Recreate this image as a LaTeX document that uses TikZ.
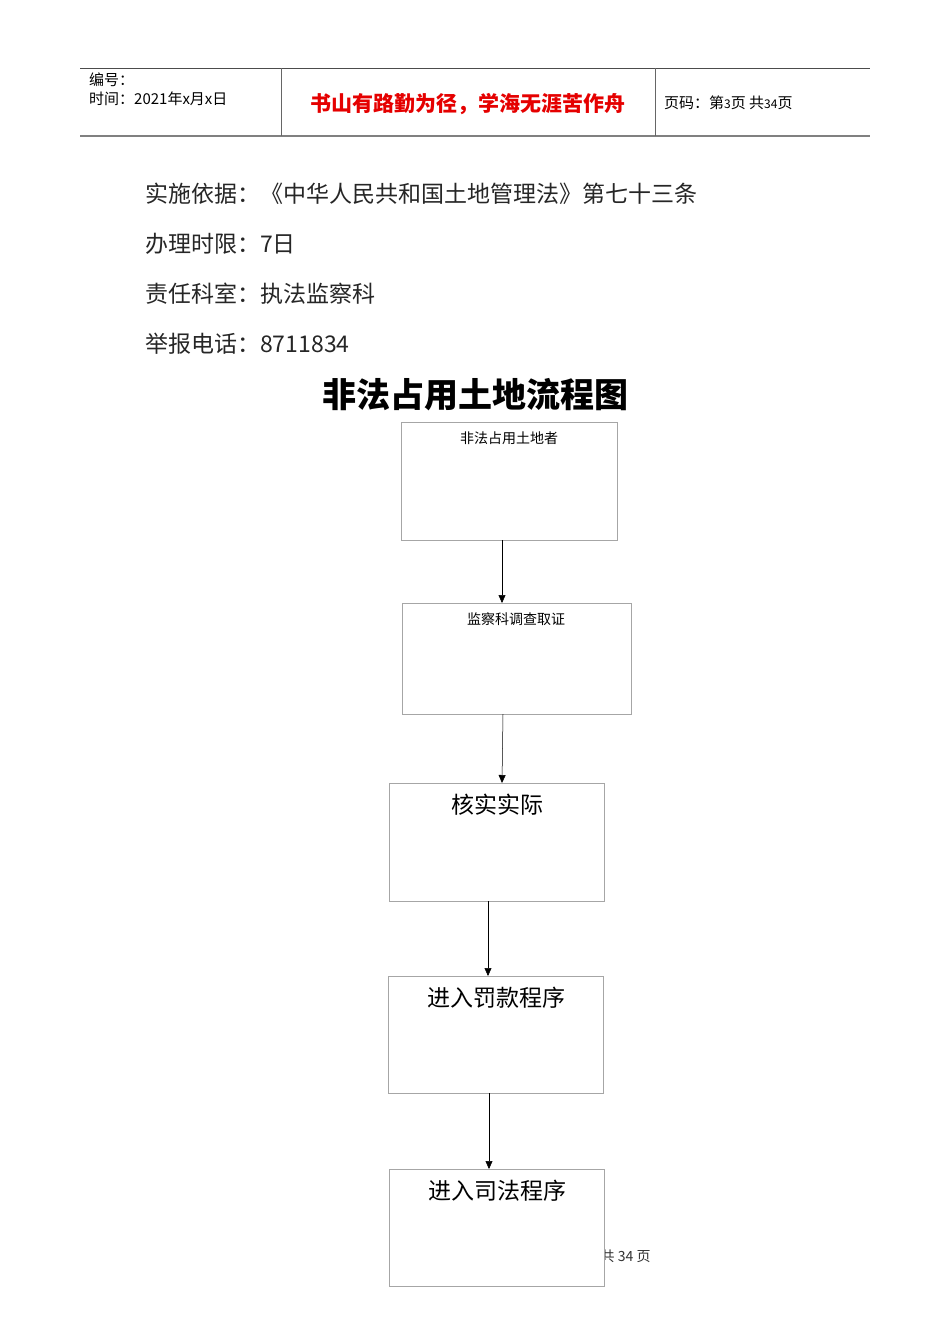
\documentclass[tikz,border=0pt]{standalone}
\usepackage{fontspec}
\setmainfont{Liberation Sans}
\newfontfamily\cjk{Noto Sans CJK SC}
\usetikzlibrary{arrows.meta}
\tikzset{box/.style={draw=black!35,fill=white,line width=0.8pt},
 arr/.style={-{Triangle[length=8pt,width=7pt]},line width=0.5pt},
 body/.style={anchor=west,font=\cjk\fontsize{23}{26}\selectfont,text=black!85,inner sep=0}}
\begin{document}
\begin{tikzpicture}[x=1pt,y=-1pt]
\useasboundingbox[fill=white] (0,0) rectangle (950,1344);
\draw[line width=0.8pt,black!70] (80,68) -- (870,68);
\draw[line width=1.5pt,black!50] (80,136) -- (870,136);
\draw[black!60,line width=0.8pt] (281,68) -- (281,136) (655,68) -- (655,136);
\node[anchor=west,font=\cjk\fontsize{15}{17}\selectfont,inner sep=0] (h1) at (89,80) {编号：};
\node[anchor=west,font=\cjk\fontsize{15}{17}\selectfont,inner sep=0] (h2) at (89,99) {时间：2021年x月x日};
\node[font=\cjk\bfseries\fontsize{21}{24}\selectfont,text=red!90!black,inner sep=0] (h3) at (468,104) {书山有路勤为径，学海无涯苦作舟};
\node[anchor=west,font=\cjk\fontsize{15}{17}\selectfont,inner sep=0] (h4) at (664,103) {页码：第{\fontsize{12}{14}\selectfont 3}页 共{\fontsize{12}{14}\selectfont 34}页};
\node[body] (t1) at (145,194) {实施依据：《中华人民共和国土地管理法》第七十三条};
\node[body] (t2) at (145,244) {办理时限：7日};
\node[body] (t3) at (145,294) {责任科室：执法监察科};
\node[body] (t4) at (145,344) {举报电话：8711834};
\node[font=\cjk\bfseries\fontsize{34}{38}\selectfont,inner sep=0] (title) at (475,395) {非法占用土地流程图};
\node[font=\cjk\fontsize{14}{16}\selectfont,inner sep=0,text=black!80] (foot) at (603,1256) {第 3 页 共 34 页};
\draw[box] (401,422) rectangle (617,540); \coordinate (b1s) at (502,540);
\node[font=\cjk\fontsize{14}{16}\selectfont,inner sep=0] (b1) at (509,438) {非法占用土地者};
\draw[box] (402,603) rectangle (631,714); \coordinate (b2n) at (502,603); \coordinate (b2s) at (503,714);
\node[font=\cjk\fontsize{14}{16}\selectfont,inner sep=0] (b2) at (516,619) {监察科调查取证};
\draw[box] (389,783) rectangle (604,901); \coordinate (b3n) at (502,783); \coordinate (b3s) at (488,901);
\node[font=\cjk\fontsize{23}{26}\selectfont,inner sep=0] (b3) at (497,805) {核实实际};
\draw[box] (388,976) rectangle (603,1093); \coordinate (b4n) at (488,976); \coordinate (b4s) at (489,1093);
\node[font=\cjk\fontsize{23}{26}\selectfont,inner sep=0] (b4) at (496,998) {进入罚款程序};
\draw[box] (389,1169) rectangle (604,1286); \coordinate (b5n) at (489,1169);
\node[font=\cjk\fontsize{23}{26}\selectfont,inner sep=0] (b5) at (497,1191) {进入司法程序};
\node[font=\cjk\fontsize{14}{16}\selectfont,inner sep=0,text=black!80,anchor=west] (foot2) at (605,1256) {\hspace{-5pt}\phantom{}};
\draw[arr] (b1s) -- (b2n);
\draw[arr] (b2s) -- (b3n);
\draw[arr] (b3s) -- (b4n);
\draw[arr] (b4s) -- (b5n);
\end{tikzpicture}
\end{document}
